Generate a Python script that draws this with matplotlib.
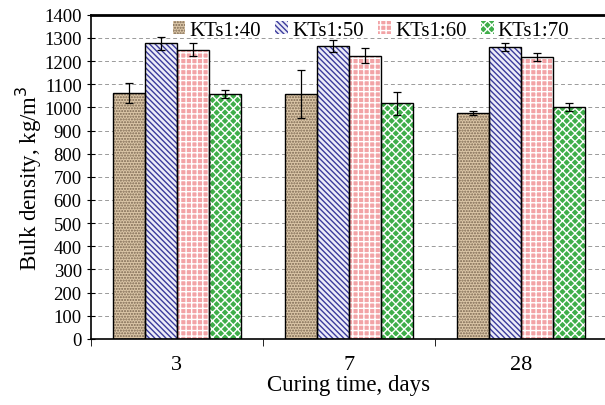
import matplotlib.pyplot as plt
import numpy as np

plt.rcParams['font.family'] = ['Liberation Serif', 'DejaVu Serif']
plt.rcParams['hatch.linewidth'] = 1.0

days = ['3', '7', '28']
series = ['KTs1:40', 'KTs1:50', 'KTs1:60', 'KTs1:70']
density = {
    'KTs1:40': [1063, 1059, 977],
    'KTs1:50': [1278, 1265, 1260],
    'KTs1:60': [1250, 1224, 1217],
    'KTs1:70': [1057, 1018, 1001],
}
errors = {
    'KTs1:40': [43, 103, 8],
    'KTs1:50': [28, 25, 17],
    'KTs1:60': [30, 32, 17],
    'KTs1:70': [18, 50, 17],
}

# face colour, hatch, hatch colour
styles = {
    'KTs1:40': ('#dcc7a8', '......', '#7a6650'),
    'KTs1:50': ('#ececf8', '\\\\\\\\\\\\', '#3b3b9c'),
    'KTs1:60': ('#f2a3a6', '+++', '#ffffff'),
    'KTs1:70': ('#3fae4a', 'xxxx', '#ffffff'),
}

fig = plt.figure(figsize=(6.05, 4.06), dpi=100)
ax = fig.add_axes([0.150, 0.163, 0.853, 0.798])

x = np.arange(len(days))
w = 0.186
offsets = (np.arange(len(series)) - 1.5) * w

for i, s in enumerate(series):
    fc, hatch, hc = styles[s]
    ax.bar(x + offsets[i], density[s], w, color=fc, hatch=hatch,
           edgecolor=hc, linewidth=0, zorder=2)
    ax.bar(x + offsets[i], density[s], w, facecolor='none',
           edgecolor='black', linewidth=1.0, zorder=3)
    ax.errorbar(x + offsets[i], density[s], yerr=errors[s], fmt='none',
                ecolor='black', elinewidth=0.9, capsize=3, capthick=0.9,
                zorder=4)
    # legend proxy
    ax.bar(0, 0, 0, color=fc, hatch=hatch, edgecolor=hc, linewidth=0,
           label=s)

ax.set_xlim(-0.5, 2.5)
ax.set_ylim(0, 1400)
ax.set_yticks(np.arange(0, 1401, 100))
ax.set_xticks(x)
ax.set_xticklabels(days)
ax.set_xticks([-0.5, 0.5, 1.5, 2.5], minor=True)
ax.tick_params(axis='x', which='major', length=0, labelsize=16, pad=12)
ax.tick_params(axis='x', which='minor', length=5, direction='out')
ax.tick_params(axis='y', labelsize=13.5, length=6, direction='inout')

ax.yaxis.grid(True, linestyle=(0, (4, 3)), color='#9a9a9a', linewidth=0.7,
              zorder=0)
ax.set_axisbelow(True)

for sp in ax.spines.values():
    sp.set_linewidth(1.2)
ax.spines['top'].set_linewidth(2.0)

ax.set_xlabel('Curing time, days', fontsize=16.5, labelpad=0)
ax.set_ylabel('Bulk density, kg/m$^3$', fontsize=16.5, labelpad=0)

ax.legend(loc='upper center', bbox_to_anchor=(0.543, 1.02), ncol=4,
          frameon=False, fontsize=15, handlelength=0.6, handleheight=0.6,
          handletextpad=0.2, columnspacing=0.7, borderaxespad=0.2)

fig.savefig('out.png', dpi=100)
